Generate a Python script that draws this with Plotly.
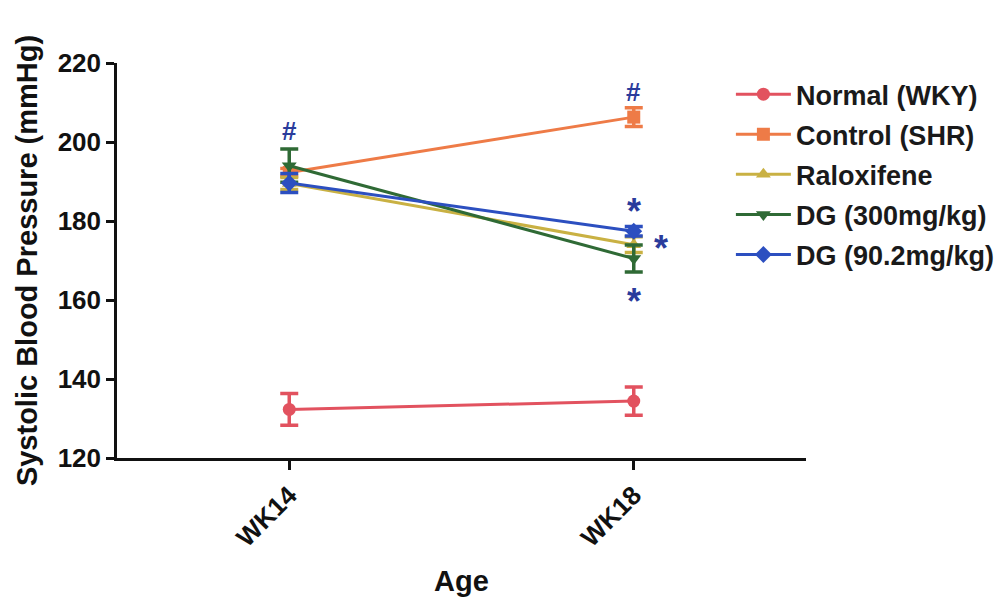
import plotly.graph_objects as go

weeks = ["WK14", "WK18"]
series_names = ["Normal (WKY)", "Control (SHR)", "Raloxifene", "DG (300mg/kg)", "DG (90.2mg/kg)"]
normal = [132.3, 134.4]
normal_err = [4.0, 3.6]
control = [192.3, 206.3]
control_err = [1.0, 2.4]
raloxifene = [189.5, 174.0]
raloxifene_err = [1.5, 2.0]
dg300 = [194.0, 170.5]
dg300_err = [4.2, 3.4]
dg902 = [189.6, 177.4]
dg902_err = [2.4, 1.2]

colors = ["#e2525f", "#ee7b47", "#c9b143", "#2f6a35", "#2c4fc0"]
symbols = ["circle", "square", "triangle-up", "triangle-down", "diamond"]
values = [normal, control, raloxifene, dg300, dg902]
errors = [normal_err, control_err, raloxifene_err, dg300_err, dg902_err]

FONT = "Liberation Sans, Arial, sans-serif"

fig = go.Figure()
for i, (name, v, e) in enumerate(zip(series_names, values, errors)):
    fig.add_trace(go.Scatter(
        x=weeks, y=v, name=name, mode="lines+markers",
        line=dict(color=colors[i], width=3),
        marker=dict(symbol=symbols[i], size=13, color=colors[i]),
        error_y=dict(type="data", array=e, visible=True, color=colors[i],
                     thickness=3.5, width=9),
        legendgroup=name,
    ))

ann_color = "#2a3c9c"
annots = [
    ("WK14", 202.8, "#", 26, 0),
    ("WK18", 212.7, "#", 26, 0),
    ("WK18", 182.5, "*", 36, 0),
    ("WK18", 173.0, "*", 36, 27),
    ("WK18", 159.5, "*", 36, 0),
]
for x, y, t, s, xs in annots:
    fig.add_annotation(x=x, y=y, text=t, showarrow=False, xshift=xs,
                       font=dict(family=FONT, size=s, color=ann_color, weight="bold"))

fig.update_layout(
    width=1001, height=601,
    margin=dict(l=117, r=195, t=63, b=143, autoexpand=False),
    paper_bgcolor="white", plot_bgcolor="white",
    font=dict(family=FONT, color="#1a1a1a"),
    legend=dict(x=0.891, y=0.982, xanchor="left", yanchor="top",
                font=dict(family=FONT, size=27, color="#1a1a1a", weight="bold"),
                tracegroupgap=2, traceorder="grouped", itemwidth=55,
                bgcolor="rgba(0,0,0,0)"),
    xaxis=dict(range=[-0.5, 1.5], showline=True, linecolor="#111", linewidth=2.5,
               ticks="outside", ticklen=9, tickwidth=2.5, tickcolor="#111",
               tickangle=-45, showgrid=False, zeroline=False,
               tickfont=dict(family=FONT, size=26, color="#111", weight="bold"),
               title=dict(text="Age", standoff=20,
                          font=dict(family=FONT, size=29, color="#111", weight="bold"))),
    yaxis=dict(range=[120, 220], dtick=20, showline=True, linecolor="#111", linewidth=2.5,
               ticks="outside", ticklen=8, tickwidth=2.5, tickcolor="#111",
               showgrid=False, zeroline=False,
               tickfont=dict(family=FONT, size=26, color="#111", weight="bold"),
               title=dict(text="Systolic Blood Pressure (mmHg)", standoff=12,
                          font=dict(family=FONT, size=29, color="#111", weight="bold"))),
)

fig.write_html("out.html")
